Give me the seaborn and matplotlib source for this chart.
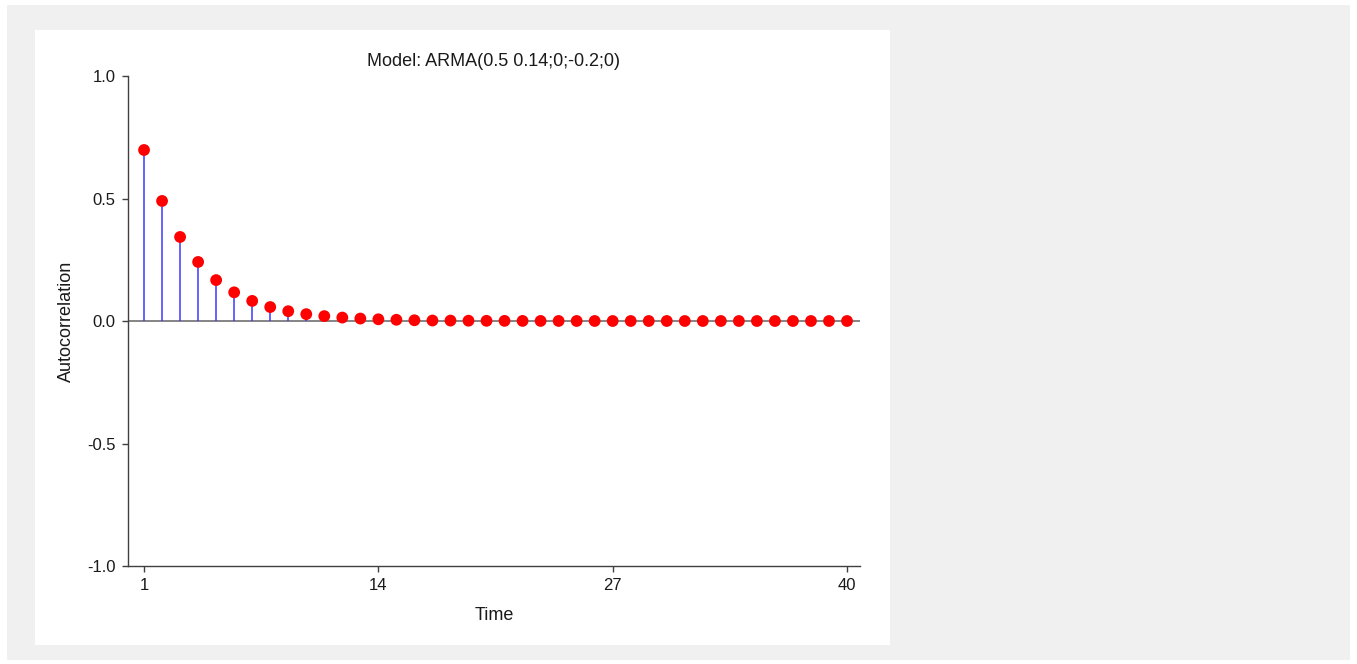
import matplotlib
matplotlib.use("Agg")
import matplotlib.pyplot as plt
import matplotlib.patches as mpatches
import seaborn as sns
import numpy as np
import pandas as pd

title = "Model: ARMA(0.5 0.14;0;-0.2;0)"
x_label = "Time"
y_label = "Autocorrelation"
lags = list(range(1, 41))
acf = [0.698, 0.490, 0.343, 0.241, 0.167, 0.117, 0.082, 0.057, 0.040, 0.028,
       0.020, 0.014, 0.010, 0.007, 0.005, 0.003, 0.002, 0.0017, 0.0012, 0.0008,
       0.0006, 0.0004, 0.0003, 0.0002, 0.0001, 0.0001, 0.0, 0.0, 0.0, 0.0,
       0.0, 0.0, 0.0, 0.0, 0.0, 0.0, 0.0, 0.0, 0.0, 0.0]
x_ticks = [1, 14, 27, 40]
y_ticks = [-1.0, -0.5, 0.0, 0.5, 1.0]

sns.set_theme(style="white")
plt.rcParams['font.family'] = ['Liberation Sans', 'DejaVu Sans']

W, H = 1357, 664
fig = plt.figure(figsize=(W / 100, H / 100), dpi=100)
fig.patch.set_facecolor("white")
# outer grey frame and white panel
fig.add_artist(mpatches.Rectangle((7 / W, 1 - 660 / H), (1350 - 7) / W, (660 - 5) / H,
                                  transform=fig.transFigure, facecolor="#f0f0f0",
                                  edgecolor="none", zorder=0))
fig.add_artist(mpatches.Rectangle((35 / W, 1 - 645 / H), (890 - 35) / W, (645 - 30) / H,
                                  transform=fig.transFigure, facecolor="white",
                                  edgecolor="none", zorder=0))

ax = fig.add_axes([128 / W, 1 - 566 / H, (860 - 128) / W, (566 - 76) / H])
ax.set_facecolor("none")

df = pd.DataFrame({"lag": lags, "acf": acf})

ax.axhline(0, color="#707070", lw=1.2, zorder=1)
ax.vlines(df["lag"], 0, df["acf"], color="#3a3aff", lw=1.1, zorder=2)
sns.scatterplot(data=df, x="lag", y="acf", ax=ax, color="#ff0000", s=72,
                edgecolor="none", linewidth=0, zorder=3)

ax.set_xlim(0.11, 40.72)
ax.set_ylim(-1.0, 1.0)
ax.set_xticks(x_ticks)
ax.set_xticklabels([str(t) for t in x_ticks])
ax.set_yticks(y_ticks)
ax.set_yticklabels([f"{t:.1f}" for t in y_ticks])

for s in ["top", "right"]:
    ax.spines[s].set_visible(False)
for s in ["left", "bottom"]:
    ax.spines[s].set_color("#404040")
    ax.spines[s].set_linewidth(1.0)

ax.tick_params(axis="both", which="major", direction="out", length=4, width=1,
               color="#404040", labelsize=12, labelcolor="#1a1a1a", pad=5,
               left=True, bottom=True)

ax.set_xlabel(x_label, fontsize=13, color="#1a1a1a", labelpad=9.5)
ax.set_ylabel(y_label, fontsize=13, color="#1a1a1a", labelpad=9)
ax.set_title(title, fontsize=13, color="#1a1a1a", pad=7)

fig.savefig("out.png", dpi=100)
